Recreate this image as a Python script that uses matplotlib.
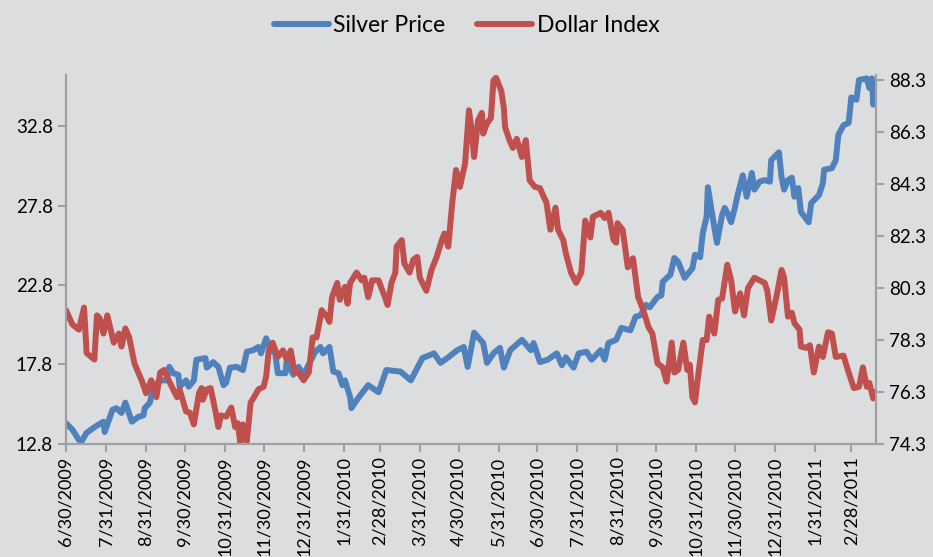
import numpy as np
import pandas as pd
import matplotlib
matplotlib.use("Agg")
import matplotlib.pyplot as plt

# --- data (days counted from 6/30/2009) ---
start = pd.Timestamp("2009-06-30")

silver_days = [0, 5, 10, 12, 16, 22, 29, 30, 36, 39, 43, 46, 51, 56, 60, 61, 65, 68, 74, 78,
               80, 83, 87, 88, 93, 95, 99, 101, 108, 109, 114, 118, 122, 124, 127, 132, 137, 140,
               145, 149, 151, 155, 158, 162, 164, 170, 171, 176, 180, 184, 189, 193, 197, 199,
               204, 207, 211, 214, 216, 220, 221, 225, 234, 242, 248, 259, 267, 276, 285, 290,
               296, 303, 308, 311, 316, 323, 326, 331, 336, 339, 344, 353, 360, 362, 367, 373,
               380, 384, 387, 393, 397, 403, 407, 414, 417, 420, 426, 430, 437, 441, 445, 449,
               452, 458, 461, 462, 468, 471, 474, 479, 485, 487, 491, 493, 496, 497, 500, 504,
               508, 510, 512, 515, 518, 520, 524, 527, 531, 533, 537, 541, 545, 546, 552, 554,
               556, 559, 562, 564, 567, 569, 575, 577, 583, 586, 587, 593, 596, 598, 602, 606,
               608, 612, 614, 620, 622, 624, 625, 626]
silver = [14.1, 13.7, 13.05, 12.95, 13.5, 13.85, 14.2, 13.55, 14.95, 15.05, 14.75, 15.4, 14.2,
          14.5, 14.6, 15.05, 15.4, 16.5, 16.8, 16.8, 17.65, 17.25, 17.15, 16.4, 16.8, 16.4, 16.8,
          18.1, 18.2, 17.6, 17.95, 17.65, 16.5, 16.65, 17.6, 17.65, 17.45, 18.6, 18.7, 18.9,
          18.5, 19.45, 18.85, 18.5, 17.25, 17.25, 18.1, 17.15, 17.65, 17.15, 17.95, 18.6, 18.9,
          18.5, 18.9, 17.35, 17.25, 16.5, 16.8, 15.75, 15.05, 15.55, 16.5, 16.05, 17.45, 17.35,
          16.8, 18.2, 18.5, 17.9, 18.25, 18.7, 18.9, 17.65, 19.8, 19.15, 17.9, 18.5, 18.85,
          17.6, 18.7, 19.35, 18.7, 19.15, 17.95, 18.1, 18.5, 17.75, 18.25, 17.6, 18.5, 18.6,
          18.1, 18.7, 18.1, 19.15, 19.35, 20.1, 19.95, 20.8, 20.9, 21.55, 21.4, 22.05, 22.15,
          23.0, 23.45, 24.5, 24.25, 23.25, 23.85, 24.7, 24.55, 26.05, 27.1, 28.95, 27.4, 25.45,
          27.2, 27.65, 27.35, 26.75, 27.7, 28.45, 29.7, 28.35, 29.85, 28.8, 29.3, 29.4, 29.3,
          30.65, 31.15, 29.6, 28.8, 29.4, 29.55, 28.35, 28.9, 27.4, 26.75, 27.95, 28.45, 29.2,
          30.05, 30.15, 30.65, 32.25, 32.85, 33.0, 34.6, 34.45, 35.7, 35.8, 35.2, 35.8, 34.15,
          34.6]

dollar_days = [0, 5, 10, 14, 16, 22, 24, 26, 29, 32, 37, 41, 43, 46, 49, 53, 59, 62, 66, 70,
               73, 76, 80, 86, 88, 93, 96, 99, 103, 105, 106, 109, 112, 116, 118, 120, 124, 128,
               131, 133, 135, 137, 140, 143, 145, 149, 153, 155, 157, 160, 164, 168, 171, 174,
               177, 180, 184, 188, 191, 194, 198, 202, 204, 206, 210, 212, 216, 218, 220, 225,
               229, 231, 234, 237, 242, 245, 247, 249, 252, 255, 256, 260, 262, 266, 269, 272,
               274, 279, 283, 287, 291, 293, 296, 299, 302, 305, 309, 312, 314, 316, 319, 322,
               323, 326, 329, 331, 333, 337, 339, 340, 343, 346, 349, 353, 356, 359, 363, 367,
               370, 372, 375, 379, 381, 385, 387, 391, 395, 399, 402, 406, 408, 414, 417, 420,
               424, 426, 427, 431, 435, 439, 443, 447, 451, 454, 458, 462, 465, 469, 471, 474,
               478, 481, 483, 485, 487, 489, 493, 496, 498, 502, 505, 508, 512, 515, 518, 522,
               525, 528, 533, 537, 541, 543, 546, 550, 554, 556, 559, 562, 564, 568, 569, 573,
               576, 579, 583, 586, 590, 593, 596, 602, 606, 610, 614, 617, 620, 622, 625, 626]
dollar = [79.45, 78.9, 78.7, 79.55, 77.8, 77.55, 79.25, 79.15, 78.55, 79.25, 78.2, 78.55, 78.05,
          78.75, 78.4, 77.4, 76.7, 76.25, 76.75, 76.1, 77.05, 77.15, 76.7, 76.1, 76.4, 75.55,
          75.5, 75.05, 76.25, 76.45, 76.0, 76.4, 76.45, 75.5, 74.95, 75.4, 75.35, 75.7, 74.95,
          75.1, 74.35, 75.05, 74.4, 75.9, 76.05, 76.4, 76.5, 76.9, 77.9, 78.2, 77.65, 77.9,
          77.55, 77.9, 77.05, 77.05, 76.75, 77.05, 78.4, 78.4, 79.45, 79.2, 79.0, 79.95, 80.5,
          79.85, 80.35, 79.7, 80.5, 80.9, 80.6, 80.7, 79.95, 80.6, 80.6, 80.2, 79.95, 79.65,
          80.5, 80.9, 81.9, 82.15, 81.25, 80.9, 81.4, 81.5, 80.7, 80.2, 81.0, 81.5, 82.15, 82.4,
          81.9, 83.55, 84.85, 84.2, 85.1, 87.15, 86.4, 85.35, 86.75, 87.05, 86.25, 86.65, 86.85,
          88.3, 88.4, 87.9, 87.25, 86.5, 86.05, 85.7, 86.05, 85.35, 86.0, 84.45, 84.2, 84.15,
          83.8, 83.6, 82.55, 83.4, 82.55, 82.15, 81.65, 80.9, 80.5, 80.9, 82.9, 82.25, 83.05,
          83.2, 83.0, 83.2, 82.15, 82.05, 82.8, 82.55, 81.1, 81.45, 79.95, 79.45, 78.8, 78.55,
          77.4, 77.25, 76.7, 78.2, 77.05, 77.15, 78.2, 77.15, 77.35, 76.1, 75.9, 76.75, 78.3,
          78.3, 79.2, 78.55, 79.85, 79.9, 81.2, 80.6, 79.4, 80.1, 79.25, 80.3, 80.7, 80.6, 80.5,
          80.2, 79.05, 79.95, 81.0, 80.7, 79.2, 79.35, 78.95, 78.7, 78.05, 78.0, 78.1, 77.05,
          78.05, 77.65, 78.6, 78.55, 77.65, 77.7, 77.05, 76.45, 76.5, 77.25, 76.5, 76.65, 76.05,
          76.3]

left_ticks = [12.8, 17.8, 22.8, 27.8, 32.8]
right_ticks = [74.3, 76.3, 78.3, 80.3, 82.3, 84.3, 86.3, 88.3]
month_ends = pd.date_range("2009-06-30", "2011-02-28", freq="ME")

silver_dates = start + pd.to_timedelta(silver_days, unit="D")
dollar_dates = start + pd.to_timedelta(dollar_days, unit="D")

# --- plot ---
bg = "#dcdddf"
spine_col = "#a0a0a0"
plt.rcParams["font.family"] = ["Lato", "DejaVu Sans"]

fig = plt.figure(figsize=(9.33, 5.57), dpi=100, facecolor=bg)
ax = fig.add_axes([0.0707, 0.203, 0.868, 0.662], facecolor=bg)
ax2 = ax.twinx()
ax2.patch.set_visible(False)

l1, = ax.plot(silver_dates, silver, color="#4f81bd", lw=4.3, solid_joinstyle="round",
              solid_capstyle="round", label="Silver Price")
l2, = ax2.plot(dollar_dates, dollar, color="#c0504d", lw=4.3, solid_joinstyle="round",
               solid_capstyle="round", label="Dollar Index")

ax.set_xlim(start, start + pd.Timedelta(days=627))
ax.set_ylim(12.8, 36.0)
ax2.set_ylim(74.3, 88.5)
ax.set_yticks(left_ticks)
ax.set_yticklabels([f"{v:.1f}" for v in left_ticks])
ax2.set_yticks(right_ticks)
ax2.set_yticklabels([f"{v:.1f}" for v in right_ticks])
ax.set_xticks(month_ends)
ax.set_xticklabels([f"{d.month}/{d.day}/{d.year}" for d in month_ends], rotation=90)

for a in (ax, ax2):
    a.spines["top"].set_visible(False)
    for s in ("left", "right", "bottom"):
        a.spines[s].set_color(spine_col)
        a.spines[s].set_linewidth(1.5)
    a.tick_params(colors=spine_col, width=1.5, length=6, labelcolor="black", labelsize=13.5)
ax.tick_params(axis="x", labelsize=13, pad=3)

fig.legend(handles=[l1, l2], loc="upper center", bbox_to_anchor=(0.5, 1.01), ncol=2,
           frameon=False, fontsize=16.5, handlelength=2.4, handletextpad=0.2, columnspacing=1.4)

fig.savefig("out.png", dpi=100, facecolor=bg)
